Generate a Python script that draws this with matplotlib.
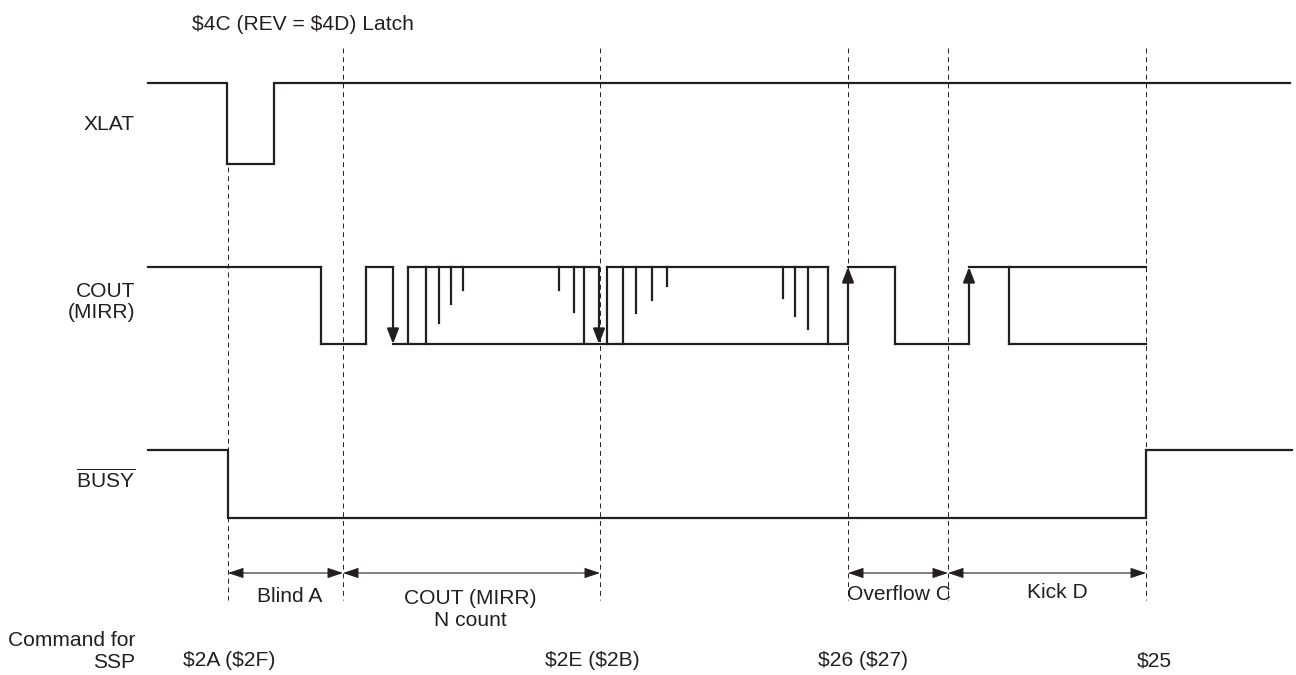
import matplotlib
matplotlib.use('Agg')
from matplotlib import pyplot as plt

plt.rcParams['font.family'] = ['Liberation Sans', 'DejaVu Sans']
plt.rcParams['mathtext.fontset'] = 'custom'
plt.rcParams['mathtext.rm'] = 'Liberation Sans'

# ---- 信号数据 (横轴为时间刻度) ----
xlat_t = [148, 227, 274, 1290]
xlat_v = [1, 0, 1, 1]

busy_t = [148, 228, 1146, 1292]
busy_v = [1, 0, 1, 1]

cout_high_runs = [(148, 321), (366, 393), (408, 599), (607, 828), (848, 895), (969, 1146)]
cout_low_runs = [(321, 366), (393, 848), (895, 969), (1009, 1146)]
cout_edges = [321, 366, 408, 426, 584, 607, 623, 828, 895, 1009]
cout_arrow_down = [393, 599]
cout_arrow_up = [848, 969]
glitch_t = [439, 451, 463, 559, 574, 636, 652, 667, 783, 795, 808]
glitch_depth = [0.73, 0.48, 0.30, 0.30, 0.58, 0.60, 0.43, 0.25, 0.40, 0.64, 0.81]

marker_t = [228, 343, 600, 848, 948, 1146]

span_start = [228, 343, 848, 948]
span_end = [343, 600, 948, 1146]
span_labels = ['Blind A', 'COUT (MIRR)\nN count', 'Overflow C', 'Kick D']
span_label_x = [290, 470, 899, 1057]
span_label_y = [596, 609, 595, 592]

cmd_t = [183, 545, 818, 1137]
cmd_labels = ['$2A ($2F)', '$2E ($2B)', '$26 ($27)', '$25']

# 通道上下电平位置
XLAT_HI, XLAT_LO = 83, 164
COUT_HI, COUT_LO = 267, 344
BUSY_HI, BUSY_LO = 450, 518

ink = '#231f20'
lw = 1.6
fs = 15.1

fig = plt.figure(figsize=(12.96, 6.75), dpi=100)
ax = fig.add_axes([0, 0, 1, 1])
ax.set_xlim(0, 1296)
ax.set_ylim(675, 0)
ax.axis('off')


def lvl(v, hi, lo):
    return lo + (hi - lo) * v


# 虚线时间标记
for i, x in enumerate(marker_t):
    top = 167 if i == 0 else 48
    ax.plot([x, x], [top, 600], color=ink, lw=0.7, linestyle=(0, (5, 4)))

# XLAT / BUSY
ax.plot(xlat_t, [lvl(v, XLAT_HI, XLAT_LO) for v in xlat_v], drawstyle='steps-post',
        color=ink, lw=lw, solid_joinstyle='miter')
ax.plot(busy_t, [lvl(v, BUSY_HI, BUSY_LO) for v in busy_v], drawstyle='steps-post',
        color=ink, lw=lw, solid_joinstyle='miter')

# COUT
for a, b in cout_high_runs:
    ax.plot([a, b], [COUT_HI, COUT_HI], color=ink, lw=lw, solid_capstyle='projecting')
for a, b in cout_low_runs:
    ax.plot([a, b], [COUT_LO, COUT_LO], color=ink, lw=lw, solid_capstyle='projecting')
for x in cout_edges:
    ax.plot([x, x], [COUT_HI, COUT_LO], color=ink, lw=lw)
for x, d in zip(glitch_t, glitch_depth):
    ax.plot([x, x], [COUT_HI, COUT_HI + d * (COUT_LO - COUT_HI)], color=ink, lw=lw)

arrow_style = dict(arrowstyle='-|>,head_length=0.9,head_width=0.35', color=ink,
                   lw=lw, shrinkA=0, shrinkB=0, mutation_scale=10)
for x in cout_arrow_down:
    ax.annotate('', xy=(x, COUT_LO), xytext=(x, COUT_HI), arrowprops=arrow_style)
for x in cout_arrow_up:
    ax.annotate('', xy=(x, COUT_HI), xytext=(x, COUT_LO), arrowprops=arrow_style)

# 区间箭头
dim_style = dict(arrowstyle='<|-|>,head_length=0.95,head_width=0.32', color=ink,
                 lw=0.8, shrinkA=0, shrinkB=0, mutation_scale=10)
for a, b in zip(span_start, span_end):
    ax.annotate('', xy=(b, 573), xytext=(a, 573), arrowprops=dim_style)
for x, y, s in zip(span_label_x, span_label_y, span_labels):
    ax.text(x, y, s, ha='center', va='center', fontsize=fs, color=ink, linespacing=1.2,
            parse_math=False)

# 文字标签
ax.text(192, 24, '$4C (REV = $4D) Latch', ha='left', va='center', fontsize=fs, color=ink,
        parse_math=False)
ax.text(135, 124, 'XLAT', ha='right', va='center', fontsize=fs, color=ink)
ax.text(135, 302, 'COUT\n(MIRR)', ha='right', va='center', fontsize=fs, color=ink,
        linespacing=1.15)
ax.text(135, 480, r'$\overline{\mathrm{BUSY}}$', ha='right', va='center', fontsize=fs, color=ink)
ax.text(135, 651, 'Command for\nSSP', ha='right', va='center', fontsize=fs, color=ink,
        multialignment='right', linespacing=1.2)
for x, s in zip(cmd_t, cmd_labels):
    ax.text(x, 661, s, ha='left', va='center', fontsize=fs, color=ink, parse_math=False)

plt.savefig('out.png', dpi=100)
